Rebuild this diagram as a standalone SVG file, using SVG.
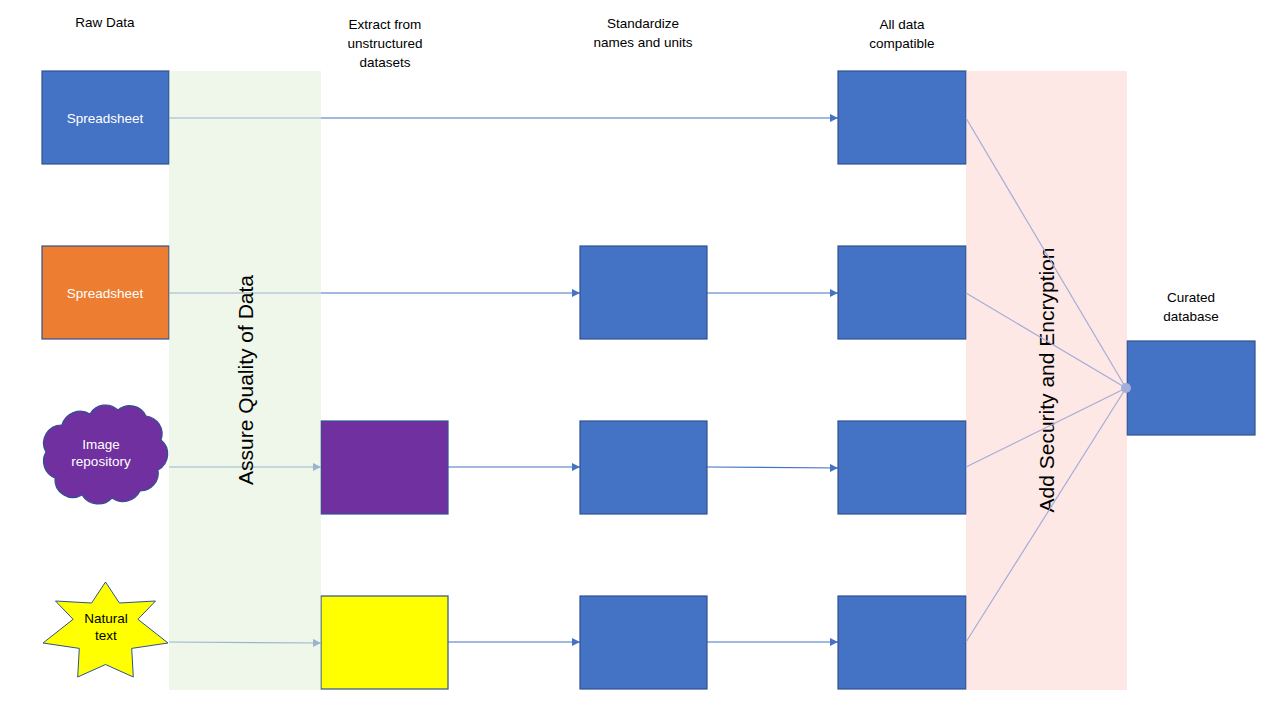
<svg xmlns="http://www.w3.org/2000/svg" width="1280" height="720" viewBox="0 0 1280 720">
<defs>
<style>
.box{fill:#4472c4;stroke:#2f528f;stroke-width:1.2}
.lbl{font-family:"Liberation Sans",Arial,sans-serif;font-size:13.5px;text-anchor:middle;fill:#000}
.wlbl{font-family:"Liberation Sans",Arial,sans-serif;font-size:13.5px;text-anchor:middle;fill:#fff}
.big{font-family:"Liberation Sans",Arial,sans-serif;font-size:21px;text-anchor:middle;fill:#000}
.conn{stroke:#4472c4;stroke-width:1.2;fill:none;marker-end:url(#arr)}
.fan{stroke:#a4acd9;stroke-width:1.2;fill:none}
</style>
<marker id="arr" viewBox="0 0 10 10" refX="10" refY="5" markerWidth="8" markerHeight="8" markerUnits="userSpaceOnUse" orient="auto">
<path d="M0,0 L10,5 L0,10 z" fill="#4472c4"/>
</marker>
</defs>
<rect width="1280" height="720" fill="#fff"/>

<g id="headers">
<text class="lbl" x="105" y="27">Raw Data</text>
<text class="lbl" x="385" y="29">Extract from</text>
<text class="lbl" x="385" y="48">unstructured</text>
<text class="lbl" x="385" y="67">datasets</text>
<text class="lbl" x="643" y="28">Standardize</text>
<text class="lbl" x="643" y="47">names and units</text>
<text class="lbl" x="902" y="29">All data</text>
<text class="lbl" x="902" y="48">compatible</text>
<text class="lbl" x="1191" y="302">Curated</text>
<text class="lbl" x="1191" y="321">database</text>
</g>

<g id="connectors">
<line class="conn" x1="169" y1="118" x2="838" y2="118"/>
<line class="conn" x1="169" y1="293" x2="580" y2="293"/>
<line class="conn" x1="707" y1="293" x2="838" y2="293"/>
<line class="conn" x1="169" y1="467" x2="321" y2="467"/>
<line class="conn" x1="448" y1="467" x2="580" y2="467"/>
<line class="conn" x1="707" y1="467" x2="838" y2="468"/>
<line class="conn" x1="169" y1="642" x2="321" y2="643"/>
<line class="conn" x1="448" y1="642" x2="580" y2="642"/>
<line class="conn" x1="707" y1="642" x2="838" y2="642"/>
</g>

<g id="n1"><rect class="box" x="42" y="71" width="127" height="93"/><text class="wlbl" x="105" y="123">Spreadsheet</text></g>
<g id="n2"><rect x="42" y="246" width="127" height="93" fill="#ed7d31" stroke="#2f528f" stroke-width="1.2"/><text class="wlbl" x="105" y="298">Spreadsheet</text></g>
<g id="n3">
<path d="M55,478 A18,18 0 0 1 46,452 A18,18 0 0 1 62,425 A19,19 0 0 1 90,414 A18,18 0 0 1 118,410 A18,18 0 0 1 146,416 A18,18 0 0 1 161,440 A18,18 0 0 1 158,470 A18,18 0 0 1 140,491 A19,19 0 0 1 112,498 A19,19 0 0 1 82,495 A18,18 0 0 1 55,478 Z" fill="#7030a0" stroke="#2f528f" stroke-width="1.2"/>
<text class="wlbl" x="101" y="449">Image</text>
<text class="wlbl" x="101" y="466">repository</text>
</g>
<g id="n4">
<polygon points="105.5,582 119.4,603.0 155.5,601.0 137.9,619.3 168,643.0 131.7,648.4 133.3,677.0 105.5,664.5 77.7,677.0 79.3,648.4 43,643.0 73.1,619.3 55.5,601.0 91.6,603.0" fill="#ffff00" stroke="#2f528f" stroke-width="1"/>
<text class="lbl" x="106" y="623">Natural</text>
<text class="lbl" x="106" y="640">text</text>
</g>

<g id="n5"><rect x="321" y="421" width="127" height="93" fill="#7030a0" stroke="#2f528f" stroke-width="1.2"/></g>
<g id="n6"><rect x="321" y="596" width="127" height="93" fill="#ffff00" stroke="#2f528f" stroke-width="1.2"/></g>
<g id="n7"><rect class="box" x="580" y="246" width="127" height="93"/></g>
<g id="n8"><rect class="box" x="580" y="421" width="127" height="93"/></g>
<g id="n9"><rect class="box" x="580" y="596" width="127" height="93"/></g>
<g id="n10"><rect class="box" x="838" y="71" width="128" height="93"/></g>
<g id="n11"><rect class="box" x="838" y="246" width="128" height="93"/></g>
<g id="n12"><rect class="box" x="838" y="421" width="128" height="93"/></g>
<g id="n13"><rect class="box" x="838" y="596" width="128" height="93"/></g>
<g id="n14"><rect class="box" x="1127" y="341" width="128" height="94"/></g>

<g id="panel-quality">
<rect x="169" y="71" width="152" height="619" fill="#e2efd9" fill-opacity="0.55"/>
<text class="big" transform="translate(253,380) rotate(-90)">Assure Quality of Data</text>
</g>
<g id="panel-security">
<rect x="966" y="71" width="161" height="619" fill="#fbd5d0" fill-opacity="0.55"/>
<text class="big" transform="translate(1054,380) rotate(-90)">Add Security and Encryption</text>
</g>

<g id="fan-connectors">
<line class="fan" x1="966" y1="118" x2="1126" y2="388"/>
<line class="fan" x1="966" y1="293" x2="1126" y2="388"/>
<line class="fan" x1="966" y1="467" x2="1126" y2="388"/>
<line class="fan" x1="966" y1="642" x2="1126" y2="388"/>
<circle cx="1126" cy="388" r="5" fill="#a4acd9"/>
</g>
</svg>
